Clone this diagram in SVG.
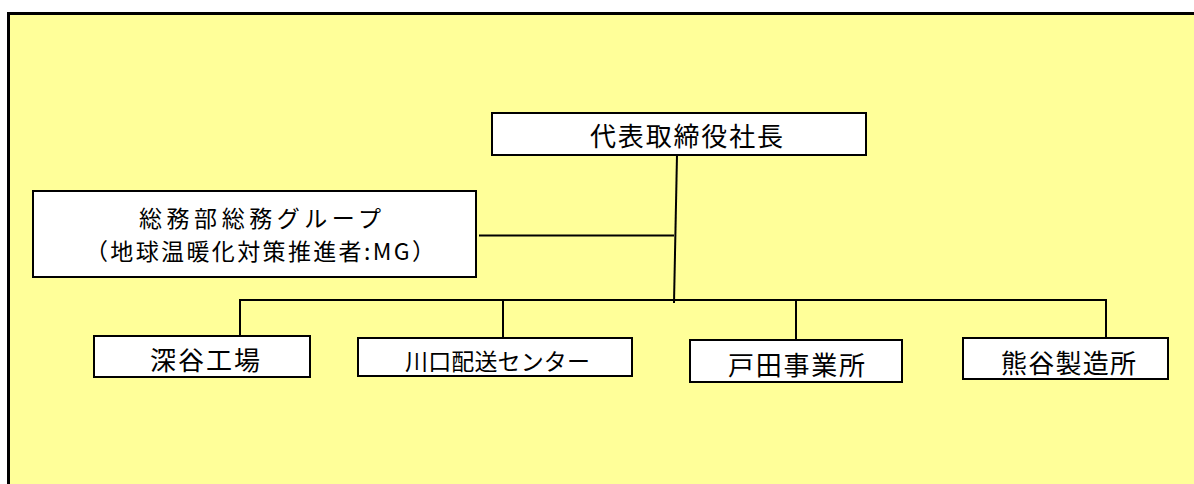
<svg xmlns="http://www.w3.org/2000/svg" width="1194" height="484" viewBox="0 0 1194 484">
<style>
.box{fill:#ffffff;stroke:#000000;stroke-width:2}
.t{font-family:"Noto Sans CJK JP","Noto Sans CJK SC",sans-serif;fill:#000000}
.c{fill:none;stroke:#000000;stroke-width:2}
</style>
<rect x="0" y="0" width="1194" height="484" fill="#ffffff"/>
<rect x="8.5" y="13.5" width="1200" height="500" fill="#ffff99" stroke="#000000" stroke-width="3"/>
<g id="connectors">
<path class="c" d="M677,155 L674,303"/>
<path class="c" d="M479,235.5 L674,235.5"/>
<path class="c" d="M240,336 L240,300 L1106,300 L1106,338"/>
<path class="c" d="M503,300 L503,338"/>
<path class="c" d="M796,299 L796,343"/>
</g>
<g id="president">
<rect class="box" x="492" y="113" width="374" height="42"/>
<text class="t" x="590" y="146" font-size="26" textLength="193" lengthAdjust="spacing">代表取締役社長</text>
</g>
<g id="soumu">
<rect class="box" x="33" y="191" width="443" height="86"/>
<text class="t" x="139" y="227" font-size="23" textLength="242" lengthAdjust="spacing">総務部総務グループ</text>
<text class="t" x="85" y="260" font-size="23" textLength="350" lengthAdjust="spacing">（地球温暖化対策推進者:MG）</text>
</g>
<g id="fukaya">
<rect class="box" x="94" y="336" width="216" height="41"/>
<text class="t" x="150" y="370" font-size="26" textLength="110" lengthAdjust="spacing">深谷工場</text>
</g>
<g id="kawaguchi">
<rect class="box" x="358" y="338" width="274" height="38"/>
<text class="t" x="405" y="370" font-size="23" textLength="185" lengthAdjust="spacing">川口配送センター</text>
</g>
<g id="toda">
<rect class="box" x="690" y="340" width="212" height="42"/>
<text class="t" x="728" y="375" font-size="26" textLength="137" lengthAdjust="spacing">戸田事業所</text>
</g>
<g id="kumagaya">
<rect class="box" x="963" y="338" width="205" height="41"/>
<text class="t" x="1001" y="373" font-size="26" textLength="135" lengthAdjust="spacing">熊谷製造所</text>
</g>
</svg>
